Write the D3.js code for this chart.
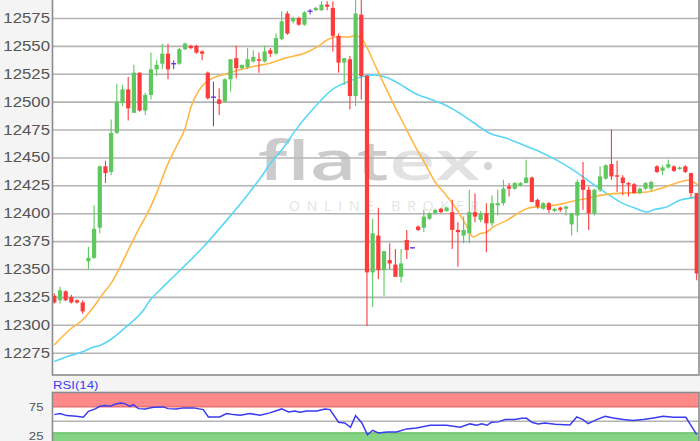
<!DOCTYPE html>
<html>
<head>
<meta charset="utf-8">
<script src="https://cdn.jsdelivr.net/npm/d3@7"></script>
<style>
  body { margin: 0; background: #f4f4f4; overflow: hidden; }
  svg { display: block; }
  text { font-family: "Liberation Sans", Arial, sans-serif; }
</style>
</head>
<body>
<script>
// candle data, one entry per bar (index = bar number)
const opens  = [12326,12322,12330,12325,12322,12320,12357,12360,12387,12442,12437,12472,12499,12511,12490,12526,12492,12506,12529,12534,
                12543,12534,12534,12547,12550,12550,12545,12526,12504,12502,12500,12520,12539,12530,12531,12536,12538,12536,12546,12543,
                12556,12579,12572,12575,12569,12581,12582,12582,12587,12584,12559,12535,12538,12505,12578,12523,12347,12380,12349,12358,
                12354,12343,12376,12369,12388,12387,12395,12400,12404,12402,12401,12385,12380,12382,12401,12394,12400,12391,12407,12409,
                12424,12422,12425,12427,12432,12412,12404,12409,12402,12405,12404,12390,12398,12430,12421,12400,12421,12431,12444,12434,
                12432,12427,12426,12418,12422,12422,12442,12438,12441,12442,12440,12442,12436,12418];
const highs  = [12328,12334,12331,12327,12323,12322,12370,12407,12443,12447,12484,12516,12515,12522,12533,12526,12508,12544,12537,12552,
                12552,12537,12548,12553,12551,12551,12546,12527,12518,12512,12521,12538,12550,12533,12548,12546,12544,12550,12548,12561,
                12581,12581,12576,12576,12581,12583,12585,12590,12590,12590,12561,12539,12541,12595,12595,12524,12395,12405,12366,12373,
                12368,12368,12385,12369.5,12389,12403,12401,12404,12405,12406,12412,12392,12397,12421,12418,12402,12409,12416,12421,12430,
                12427,12428,12428,12448,12433,12413,12410,12410,12405,12406,12407,12400,12430,12446,12424,12422,12442,12444,12475,12447,
                12434,12428,12427,12423,12428,12429,12443,12443,12448,12443,12442,12443,12436,12418];
const lows   = [12319,12319,12321,12319,12319,12310,12350,12359,12382,12427,12434,12471,12496,12483,12490,12491,12488,12502,12523,12529,
                12520,12529,12533,12546,12547,12543,12537,12502,12478,12488,12499,12509,12521,12529,12529,12535,12526,12535,12540,12542,
                12555,12560,12570,12568,12568,12578,12581,12581,12582,12545,12526,12515,12493,12496,12502,12299,12316,12341,12326,12350,
                12343,12338,12359,12368.5,12384,12383,12394,12399,12400,12401,12368,12352,12373,12373,12392,12392,12365,12388,12398,12407,
                12415,12421,12424,12427,12410,12404,12403,12400,12401,12401,12398,12380,12383,12403,12385,12398,12419,12430,12430,12419,
                12416,12415,12418,12417,12421,12420,12436,12434,12440,12437,12439,12436,12414,12340];
const closes = [12320,12331,12322,12320,12320,12312,12360,12386,12442,12436,12472,12500,12511,12494,12526,12492,12506,12529,12533,12543,
                12529,12534,12547,12552,12548,12544,12543,12503,12504,12498,12520,12538,12530,12533,12538,12540,12537,12545,12543,12557,
                12572,12561,12575,12569,12580,12581,12584,12587,12585,12559,12535,12539,12505,12579,12523,12347,12382,12349,12366,12355,
                12343,12355,12367,12369,12385,12397,12400,12403,12401,12405,12385,12383,12385,12401,12397,12400,12391,12409,12409,12422,
                12422,12427,12427,12432,12410,12406,12409,12403,12404,12403,12406,12400,12428,12421,12400,12421,12433,12443,12433,12433,
                12427,12426,12418,12422,12427,12428,12437,12441,12444,12438,12441,12437,12418,12346];

// moving averages: [bar index, value]
const maFast = [[0,12282],[2.8,12296],[5.1,12305],[6.9,12316],[8.6,12328],[10.1,12338],[11.6,12352],[13.3,12370],[15.1,12388],
                [16.2,12398],[18,12418],[19.8,12442],[21.5,12460],[23,12476],[24.1,12496],[25.3,12509],[26.8,12518],[28.5,12522.5],
                [30.3,12525],[32.6,12528.5],[35,12531.5],[37.9,12534.5],[40.6,12539],[44.1,12543.5],[46.4,12549.5],[47.9,12555],
                [49.4,12558],[51.7,12558],[52.9,12559],[54,12557],[54.9,12549.5],[56.4,12533],[58.2,12513.5],[59.9,12495.6],
                [61.7,12477.6],[63.5,12459.6],[65.2,12444.6],[67,12428],[68.7,12417.6],[70.5,12405.6],[72.3,12390.6],[73.7,12378.7],
                [74.9,12381.7],[76,12383],[77.2,12387.6],[79.6,12393.6],[81.9,12401],[83.7,12405],[86.6,12406.2],[89.5,12408.6],
                [91.9,12411.6],[93.6,12413],[96,12416],[98.3,12417.6],[101.3,12418.2],[104.2,12419],[106.5,12422],[108.3,12425],
                [110,12428],[111.5,12429.6],[112.4,12428],[113.3,12425]];
const maSlow = [[0,12267],[2.2,12271.4],[5.1,12276],[6.9,12280],[8,12281.5],[9.8,12286.4],[12.7,12298.5],[15.7,12313.3],
                [16.8,12321.7],[18.6,12331.2],[21.5,12345.7],[26.2,12369.7],[30.3,12393.6],[34.4,12419.1],[37,12437],[37.9,12444],
                [40,12456.6],[42.9,12477.6],[45.9,12495.6],[48.8,12510.6],[51.7,12518],[54.7,12523],[56.4,12524],[58.2,12522],
                [60.5,12516.5],[63.4,12507.6],[66.4,12501.6],[69.3,12495.6],[72.2,12486.6],[75.2,12476.1],[76.6,12471.6],
                [79.6,12467.1],[82.5,12461.1],[85.4,12455.1],[88.4,12447.6],[91.3,12438.6],[94.2,12428.1],[97.2,12417.6],
                [100.1,12408.6],[102.4,12404.1],[104.2,12401.1],[105.4,12403.1],[107.7,12405.6],[110,12411.6],[112.4,12414],[113.3,12414.7]];

// RSI(14): [bar index, value]
const rsi = [[0,61.6],[1,63.4],[2.2,59.9],[3.9,58.7],[5.1,57],[6,67.4],[7.2,71.5],[8,76],[8.9,77.3],[9.8,76],[10.7,79.5],
             [11.6,81.9],[12.4,80.7],[13.3,76],[13.9,79],[14.8,72],[16,71.5],[17.4,74.3],[19.2,75],[20,72],[21.5,71.5],
             [22.7,73.3],[24.5,73.3],[26.2,70.3],[27.1,57.6],[29.1,57.6],[30.3,63.4],[31.5,61.6],[32.7,60.4],[34.4,63.4],
             [36.2,60.4],[37.9,64.6],[40,71.5],[41.2,66.3],[42.3,68],[43.2,65.6],[44.4,68],[46.2,68],[47.6,71.5],[48.5,70.3],
             [50,48.3],[51.1,47.2],[52.1,39.6],[53,59.9],[54.1,47.2],[55.1,26.4],[56,34.4],[57,29.9],[58.5,31.6],[60.2,31.6],
             [62,36.8],[63.7,38.5],[66.1,43.1],[69,43.1],[71.4,39.6],[73.1,45.5],[74.3,43.1],[75.2,45.5],[76.1,43.1],[76.9,48.3],
             [78.1,49],[79.3,53],[81,53],[82.2,55.2],[83.1,55.2],[84,48.3],[85.1,45.5],[86.3,47.2],[88.1,44.8],[90.7,43.7],
             [91.9,57.6],[93,53],[93.9,46],[95.4,53],[96.9,58.7],[98.3,55.9],[100.1,53],[101.8,51.2],[103.6,53],[105.4,55.9],
             [107.1,58.7],[108.9,57],[111.1,57],[112.1,41.3],[113,26.9]];

const priceTicks = [12275, 12300, 12325, 12350, 12375, 12400, 12425, 12450, 12475, 12500, 12525, 12550, 12575];
const rsiTicks = [75, 25];
const rsiGrid = [50];
const rsiOverbought = 75;
const rsiOversold = 30;

const width = 700, height = 441;
const plot = { left: 53, right: 699, top: 0, bottom: 375 };
const rsiTop = 392.5;

const x = d3.scaleLinear().domain([0, opens.length - 1]).range([54.3, 696.7]);
const y = d3.scaleLinear().domain([12255, 12591.1]).range([plot.bottom, plot.top]);
const yR = d3.scaleLinear().domain([0, 100]).range([450.1, rsiTop]);

const svg = d3.select('body').append('svg')
  .attr('width', width)
  .attr('height', height);

const defs = svg.append('defs');
defs.append('clipPath').attr('id', 'clipMain')
  .append('rect').attr('x', plot.left).attr('y', plot.top)
  .attr('width', plot.right - plot.left).attr('height', plot.bottom - plot.top);
defs.append('clipPath').attr('id', 'clipRsi')
  .append('rect').attr('x', plot.left).attr('y', rsiTop)
  .attr('width', plot.right - plot.left).attr('height', height - rsiTop);

// panel backgrounds
svg.append('rect').attr('x', plot.left).attr('y', plot.top)
  .attr('width', plot.right - plot.left).attr('height', plot.bottom - plot.top)
  .attr('fill', '#fff');
svg.append('rect').attr('x', plot.left).attr('y', rsiTop)
  .attr('width', plot.right - plot.left).attr('height', height - rsiTop)
  .attr('fill', '#fff');

// watermark
const wm = svg.append('g').attr('clip-path', 'url(#clipMain)');
const logo = wm.append('text')
  .attr('x', 258).attr('y', 180)
  .attr('textLength', 222).attr('lengthAdjust', 'spacingAndGlyphs')
  .style('font-family', '"Open Sans", sans-serif')
  .style('font-weight', 600)
  .style('font-size', '54px');
logo.append('tspan').attr('fill', '#cbcbcb').text('flat');
logo.append('tspan').attr('fill', '#e2e2e2').text('ex');
wm.append('circle').attr('cx', 488).attr('cy', 166).attr('r', 4).attr('fill', '#d6d6d6');
wm.append('text')
  .attr('x', 289).attr('y', 211)
  .attr('textLength', 190).attr('lengthAdjust', 'spacing')
  .attr('fill', '#e4e4e4')
  .style('font-family', '"Open Sans", sans-serif')
  .style('font-size', '14px')
  .text('ONLINE BROKER');

// price gridlines
const grid = svg.append('g')
  .attr('transform', `translate(${plot.left},0)`)
  .call(d3.axisRight(y).tickValues(priceTicks).tickSize(plot.right - plot.left).tickFormat(''))
  .call(g => g.select('.domain').remove());
grid.selectAll('.tick line').attr('stroke', '#b4b4b4').attr('stroke-width', 1.6);

// price labels (glyphs are a bit wide in the original)
const yAxis = svg.append('g')
  .attr('transform', `translate(${plot.left},0)`)
  .call(d3.axisLeft(y).tickValues(priceTicks).tickSize(0).tickFormat(d3.format('d')))
  .call(g => g.select('.domain').remove());
yAxis.selectAll('.tick text')
  .attr('x', -2.5)
  .attr('transform', 'scale(1.2,1)')
  .attr('fill', '#555')
  .style('font-size', '14px')
  .style('font-family', '"Liberation Sans", Arial, sans-serif');

// moving averages
const mainG = svg.append('g').attr('clip-path', 'url(#clipMain)');
const maLine = d3.line().x(d => x(d[0])).y(d => y(d[1])).curve(d3.curveMonotoneX);
mainG.append('path').datum(maSlow).attr('d', maLine)
  .attr('fill', 'none').attr('stroke', '#5ad7f5').attr('stroke-width', 1.6);
mainG.append('path').datum(maFast).attr('d', maLine)
  .attr('fill', 'none').attr('stroke', '#ffb847').attr('stroke-width', 1.6);

// candles
const bars = d3.range(opens.length).map(i => ({ i, o: opens[i], h: highs[i], l: lows[i], c: closes[i] }));
const colorOf = d => d.c > d.o ? '#5ec85e' : d.c < d.o ? '#ff3a3a' : '#6a3ae0';
const bodyW = 4.2;

const candle = mainG.selectAll('g.candle').data(bars).enter().append('g').attr('class', 'candle');
candle.append('line')
  .attr('x1', d => x(d.i)).attr('x2', d => x(d.i))
  .attr('y1', d => y(d.h)).attr('y2', d => y(d.l))
  .attr('stroke', colorOf).attr('stroke-width', 1.1);
candle.filter(d => d.c !== d.o).append('rect')
  .attr('x', d => x(d.i) - bodyW / 2)
  .attr('y', d => y(Math.max(d.o, d.c)))
  .attr('width', bodyW)
  .attr('height', d => Math.max(1.5, Math.abs(y(d.o) - y(d.c))))
  .attr('fill', colorOf);
candle.filter(d => d.c === d.o).append('line')
  .attr('x1', d => x(d.i) - 2.5).attr('x2', d => x(d.i) + 2.5)
  .attr('y1', d => y(d.o)).attr('y2', d => y(d.o))
  .attr('stroke', colorOf).attr('stroke-width', 1.4);

// main frame
svg.append('rect')
  .attr('x', plot.left - 0.5).attr('y', -5)
  .attr('width', plot.right - plot.left + 0.5).attr('height', plot.bottom + 5)
  .attr('fill', 'none').attr('stroke', '#8c8c8c').attr('stroke-width', 1.6);

// RSI panel
const rsiG = svg.append('g').attr('clip-path', 'url(#clipRsi)');
rsiG.append('rect')
  .attr('x', plot.left).attr('width', plot.right - plot.left)
  .attr('y', yR(100)).attr('height', yR(rsiOverbought) - yR(100))
  .attr('fill', '#ff8a8a');
rsiG.append('line')
  .attr('x1', plot.left).attr('x2', plot.right)
  .attr('y1', yR(rsiOverbought)).attr('y2', yR(rsiOverbought))
  .attr('stroke', '#e86a6a').attr('stroke-width', 1.2);
rsiG.append('rect')
  .attr('x', plot.left).attr('width', plot.right - plot.left)
  .attr('y', yR(rsiOversold)).attr('height', yR(0) - yR(rsiOversold))
  .attr('fill', '#84d484');
rsiG.append('line')
  .attr('x1', plot.left).attr('x2', plot.right)
  .attr('y1', yR(rsiOversold)).attr('y2', yR(rsiOversold))
  .attr('stroke', '#62bd62').attr('stroke-width', 1.2);
rsiG.selectAll('line.rgrid').data(rsiGrid).enter().append('line')
  .attr('class', 'rgrid')
  .attr('x1', plot.left).attr('x2', plot.right)
  .attr('y1', d => yR(d)).attr('y2', d => yR(d))
  .attr('stroke', '#b4b4b4').attr('stroke-width', 1.6);
rsiG.append('path').datum(rsi)
  .attr('d', d3.line().x(d => x(d[0])).y(d => yR(d[1])))
  .attr('fill', 'none').attr('stroke', '#3a3af0').attr('stroke-width', 1.5);

svg.append('rect')
  .attr('x', plot.left - 0.5).attr('y', rsiTop)
  .attr('width', plot.right - plot.left + 0.5).attr('height', height - rsiTop + 5)
  .attr('fill', 'none').attr('stroke', '#8c8c8c').attr('stroke-width', 1.6);

const rAxis = svg.append('g')
  .attr('transform', `translate(${plot.left},0)`)
  .call(d3.axisLeft(yR).tickValues(rsiTicks).tickSize(0))
  .call(g => g.select('.domain').remove());
rAxis.selectAll('.tick text')
  .attr('x', -7.9)
  .attr('transform', 'scale(1.2,1)')
  .attr('fill', '#555')
  .style('font-size', '11px')
  .style('font-family', '"Liberation Sans", Arial, sans-serif');

svg.append('text')
  .attr('x', plot.left / 1.2).attr('y', 389)
  .attr('transform', 'scale(1.2,1)')
  .attr('fill', '#3a3af0')
  .style('font-size', '11px')
  .text('RSI(14)');
</script>
</body>
</html>
